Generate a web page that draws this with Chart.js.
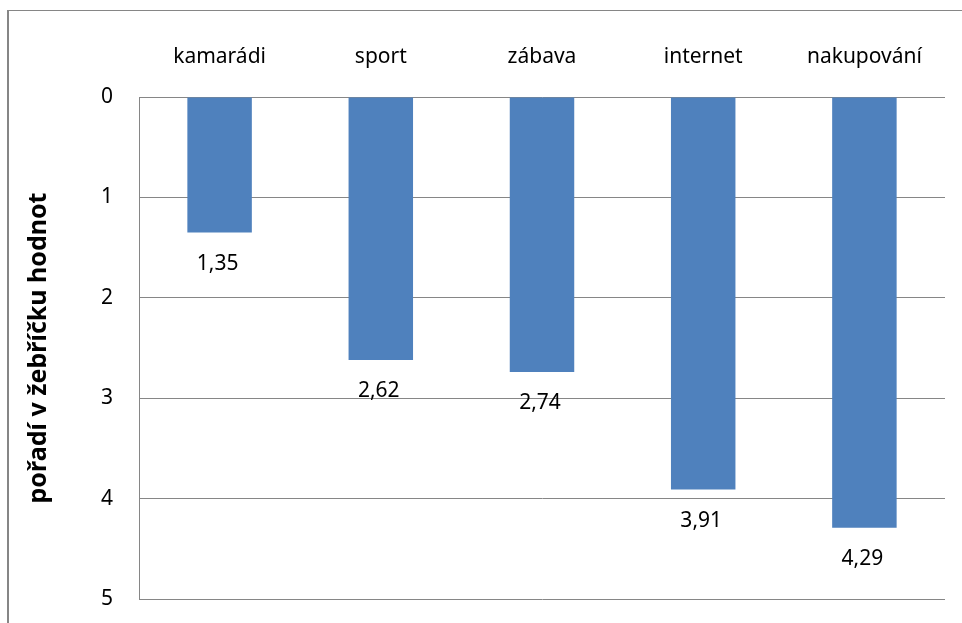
<!DOCTYPE html>
<html lang="cs">
<head>
  <meta charset="UTF-8">
  <title>pořadí v žebříčku hodnot</title>
  <script src="https://cdn.jsdelivr.net/npm/chart.js"></script>
  <style>
    html, body {
      margin: 0;
      padding: 0;
      background: #ffffff;
      overflow: hidden;
    }
    #wrap {
      position: relative;
      width: 962px;
      height: 623px;
    }
  </style>
</head>
<body>
  <div id="wrap">
    <canvas id="rankChart" width="962" height="623"></canvas>
  </div>

  <script>
    const categories = ['kamarádi', 'sport', 'zábava', 'internet', 'nakupování'];
    const ranks = [1.35, 2.62, 2.74, 3.91, 4.29];
    const yTicks = [0, 1, 2, 3, 4, 5];

    const fontFamily = '"Noto Sans", "Open Sans", sans-serif';
    const gridColor = '#868686';

    // outer frame like the pasted Excel picture (left + top edge only)
    const framePlugin = {
      id: 'frame',
      beforeDraw(chart) {
        const c = chart.ctx;
        c.save();
        c.strokeStyle = gridColor;
        c.lineWidth = 2;
        c.beginPath();
        c.moveTo(8, 10);
        c.lineTo(8, chart.height);
        c.stroke();
        c.lineWidth = 1;
        c.beginPath();
        c.moveTo(8, 10.5);
        c.lineTo(chart.width, 10.5);
        c.stroke();
        c.restore();
      }
    };

    // values written under the end of each bar, with decimal comma
    const valueLabels = {
      id: 'valueLabels',
      afterDatasetsDraw(chart) {
        const c = chart.ctx;
        const meta = chart.getDatasetMeta(0);
        c.save();
        c.font = '21px ' + fontFamily;
        c.fillStyle = '#000000';
        c.textAlign = 'center';
        c.textBaseline = 'middle';
        meta.data.forEach((bar, i) => {
          const txt = ranks[i].toFixed(2).replace('.', ',');
          c.fillText(txt, bar.x - 2, bar.y + 31);
        });
        c.restore();
      }
    };

    const ctx = document.getElementById('rankChart').getContext('2d');

    new Chart(ctx, {
      type: 'bar',
      data: {
        labels: categories,
        datasets: [{
          data: ranks,
          backgroundColor: '#4F81BD',
          borderWidth: 0,
          barPercentage: 0.4,
          categoryPercentage: 1.0
        }]
      },
      options: {
        responsive: false,
        animation: false,
        layout: {
          padding: { left: 0, top: 0, right: 17, bottom: 24 }
        },
        plugins: {
          legend: { display: false },
          tooltip: { enabled: false },
          title: { display: false }
        },
        scales: {
          x: {
            position: 'top',
            grid: { display: false },
            border: { display: false },
            ticks: {
              color: '#000000',
              font: { family: fontFamily, size: 21 },
              padding: 19
            },
            afterFit(scale) {
              scale.height = 97;
            }
          },
          y: {
            reverse: true,
            min: 0,
            max: 5,
            afterBuildTicks(scale) {
              scale.ticks = yTicks.map(v => ({ value: v }));
            },
            grid: {
              color: gridColor,
              drawTicks: false
            },
            border: { display: true, color: gridColor },
            ticks: {
              color: '#000000',
              font: { family: fontFamily, size: 21 },
              padding: 26
            },
            title: {
              display: true,
              text: 'pořadí v žebříčku hodnot',
              color: '#000000',
              font: { family: fontFamily, size: 25, weight: 'bold' },
              padding: { top: 24, bottom: 0 }
            },
            afterFit(scale) {
              scale.width = 139;
              scale.paddingTop = 0;
              scale.paddingBottom = 0;
            }
          }
        }
      },
      plugins: [framePlugin, valueLabels]
    });
  </script>
</body>
</html>
